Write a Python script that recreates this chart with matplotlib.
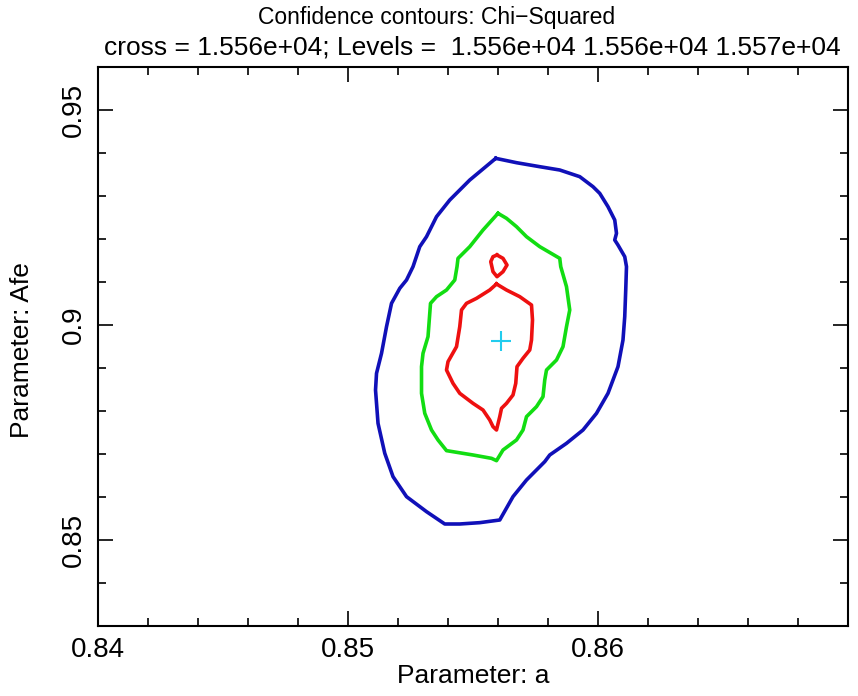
import matplotlib
matplotlib.use("Agg")
import matplotlib.pyplot as plt
from matplotlib.ticker import MultipleLocator

plt.rcParams['font.family'] = ['Liberation Sans', 'DejaVu Sans']

# contour paths (parameter a, parameter Afe)
blue_a = [0.85592, 0.85675, 0.85768, 0.85848, 0.85928, 0.85981, 0.86008, 0.86041,
          0.86068, 0.86075, 0.86068, 0.86081, 0.86108, 0.86115, 0.86112, 0.86108,
          0.86101, 0.86081, 0.86061, 0.86041, 0.85995, 0.85941, 0.85875, 0.85808,
          0.85788, 0.85715, 0.85661, 0.85608, 0.85528, 0.85448, 0.85388, 0.85315,
          0.85235, 0.85181, 0.85148, 0.85121, 0.85111, 0.85115, 0.85135, 0.85155,
          0.85175, 0.85208, 0.85235, 0.85261, 0.85288, 0.85315, 0.85355, 0.85408,
          0.85488, 0.85592]
blue_afe = [0.93876, 0.93775, 0.93682, 0.93605, 0.93450, 0.93217, 0.93062, 0.92752,
            0.92442, 0.92132, 0.91977, 0.91860, 0.91589, 0.91357, 0.90814, 0.90194,
            0.89651, 0.89031, 0.88721, 0.88411, 0.87946, 0.87558, 0.87248, 0.86977,
            0.86822, 0.86395, 0.86008, 0.85465, 0.85403, 0.85372, 0.85372, 0.85659,
            0.86008, 0.86473, 0.87016, 0.87713, 0.88488, 0.88876, 0.89341, 0.89961,
            0.90504, 0.90853, 0.91047, 0.91357, 0.91822, 0.92054, 0.92519, 0.92907,
            0.93372, 0.93876]

green_a = [0.85601, 0.85635, 0.85675, 0.85715, 0.85768, 0.85848, 0.85852, 0.85875,
           0.85888, 0.85875, 0.85861, 0.85835, 0.85795, 0.85788, 0.85781, 0.85755,
           0.85715, 0.85701, 0.85675, 0.85621, 0.85595, 0.85575, 0.85501, 0.85395,
           0.85361, 0.85335, 0.85308, 0.85295, 0.85295, 0.85301, 0.85321, 0.85331,
           0.85355, 0.85395, 0.85428, 0.85437, 0.85441, 0.85488, 0.85541, 0.85601]
green_afe = [0.92597, 0.92481, 0.92287, 0.92054, 0.91822, 0.91550, 0.91357, 0.90891,
             0.90349, 0.89961, 0.89496, 0.89186, 0.88953, 0.88721, 0.88333, 0.88101,
             0.87868, 0.87558, 0.87326, 0.87093, 0.86845, 0.86899, 0.86977, 0.87078,
             0.87326, 0.87558, 0.87946, 0.88411, 0.89031, 0.89341, 0.89729, 0.90504,
             0.90659, 0.90814, 0.91047, 0.91357, 0.91550, 0.91822, 0.92209, 0.92597]

red_a = [0.85595, 0.85635, 0.85688, 0.85735, 0.85739, 0.85735, 0.85728, 0.85701,
         0.85677, 0.85672, 0.85661, 0.85635, 0.85615, 0.85608, 0.85595, 0.85581,
         0.85568, 0.85541, 0.85501, 0.85448, 0.85421, 0.85395, 0.85401, 0.85435,
         0.85448, 0.85455, 0.85475, 0.85515, 0.85568, 0.85595]
red_afe = [0.90954, 0.90814, 0.90659, 0.90465, 0.90116, 0.89651, 0.89419, 0.89225,
           0.89031, 0.88643, 0.88372, 0.88178, 0.88062, 0.87868, 0.87558, 0.87636,
           0.87791, 0.88023, 0.88178, 0.88411, 0.88643, 0.88953, 0.89147, 0.89496,
           0.89961, 0.90349, 0.90504, 0.90620, 0.90814, 0.90954]

red_small_a = [0.85597, 0.85621, 0.85637, 0.85621, 0.85597, 0.85581, 0.85572, 0.85581, 0.85597]
red_small_afe = [0.91628, 0.91550, 0.91395, 0.91240, 0.91124, 0.91240, 0.91473, 0.91589, 0.91628]

best_a = 0.85611
best_afe = 0.89628

title_lines = ["Confidence contours: Chi\u2212Squared",
               "cross = 1.556e+04; Levels =  1.556e+04 1.556e+04 1.557e+04"]

fig = plt.figure(figsize=(8.58, 6.96), dpi=100)
ax = fig.add_axes([0.114, 0.1006, 0.874, 0.8031])

ax.plot(blue_a, blue_afe, color="#1010b8", lw=2.6)
ax.plot(green_a, green_afe, color="#12dd12", lw=2.6)
ax.plot(red_a, red_afe, color="#ee1010", lw=2.6)
ax.plot(red_small_a, red_small_afe, color="#ee1010", lw=2.6)
ax.plot([best_a], [best_afe], marker="+", color="#22ccee", ms=14, mew=1.5)

ax.set_xlim(0.84, 0.87)
ax.set_ylim(0.83, 0.96)
ax.xaxis.set_major_locator(MultipleLocator(0.01))
ax.xaxis.set_minor_locator(MultipleLocator(0.002))
ax.yaxis.set_major_locator(MultipleLocator(0.05))
ax.yaxis.set_minor_locator(MultipleLocator(0.01))
ax.set_xticks([0.84, 0.85, 0.86])
ax.set_xticklabels(["0.84", "0.85", "0.86"])
ax.set_yticks([0.85, 0.9, 0.95])
ax.set_yticklabels(["0.85", "0.9", "0.95"], rotation=90, va="center")

ax.tick_params(which="both", direction="in", top=True, right=True, width=1.2,
               labelsize=20, pad=8)
ax.tick_params(which="major", length=11)
ax.tick_params(which="minor", length=6)
for s in ax.spines.values():
    s.set_linewidth(1.5)

ax.set_xlabel("Parameter: a", fontsize=19, labelpad=1)
ax.set_ylabel("Parameter: Afe", fontsize=19)
ax.yaxis.set_label_coords(-0.085, 0.493)
fig.text(0.509, 0.975, title_lines[0], ha="center", va="center", fontsize=16.5)
fig.text(0.551, 0.932, title_lines[1], ha="center", va="center", fontsize=19)

fig.savefig("out.png", dpi=100)
